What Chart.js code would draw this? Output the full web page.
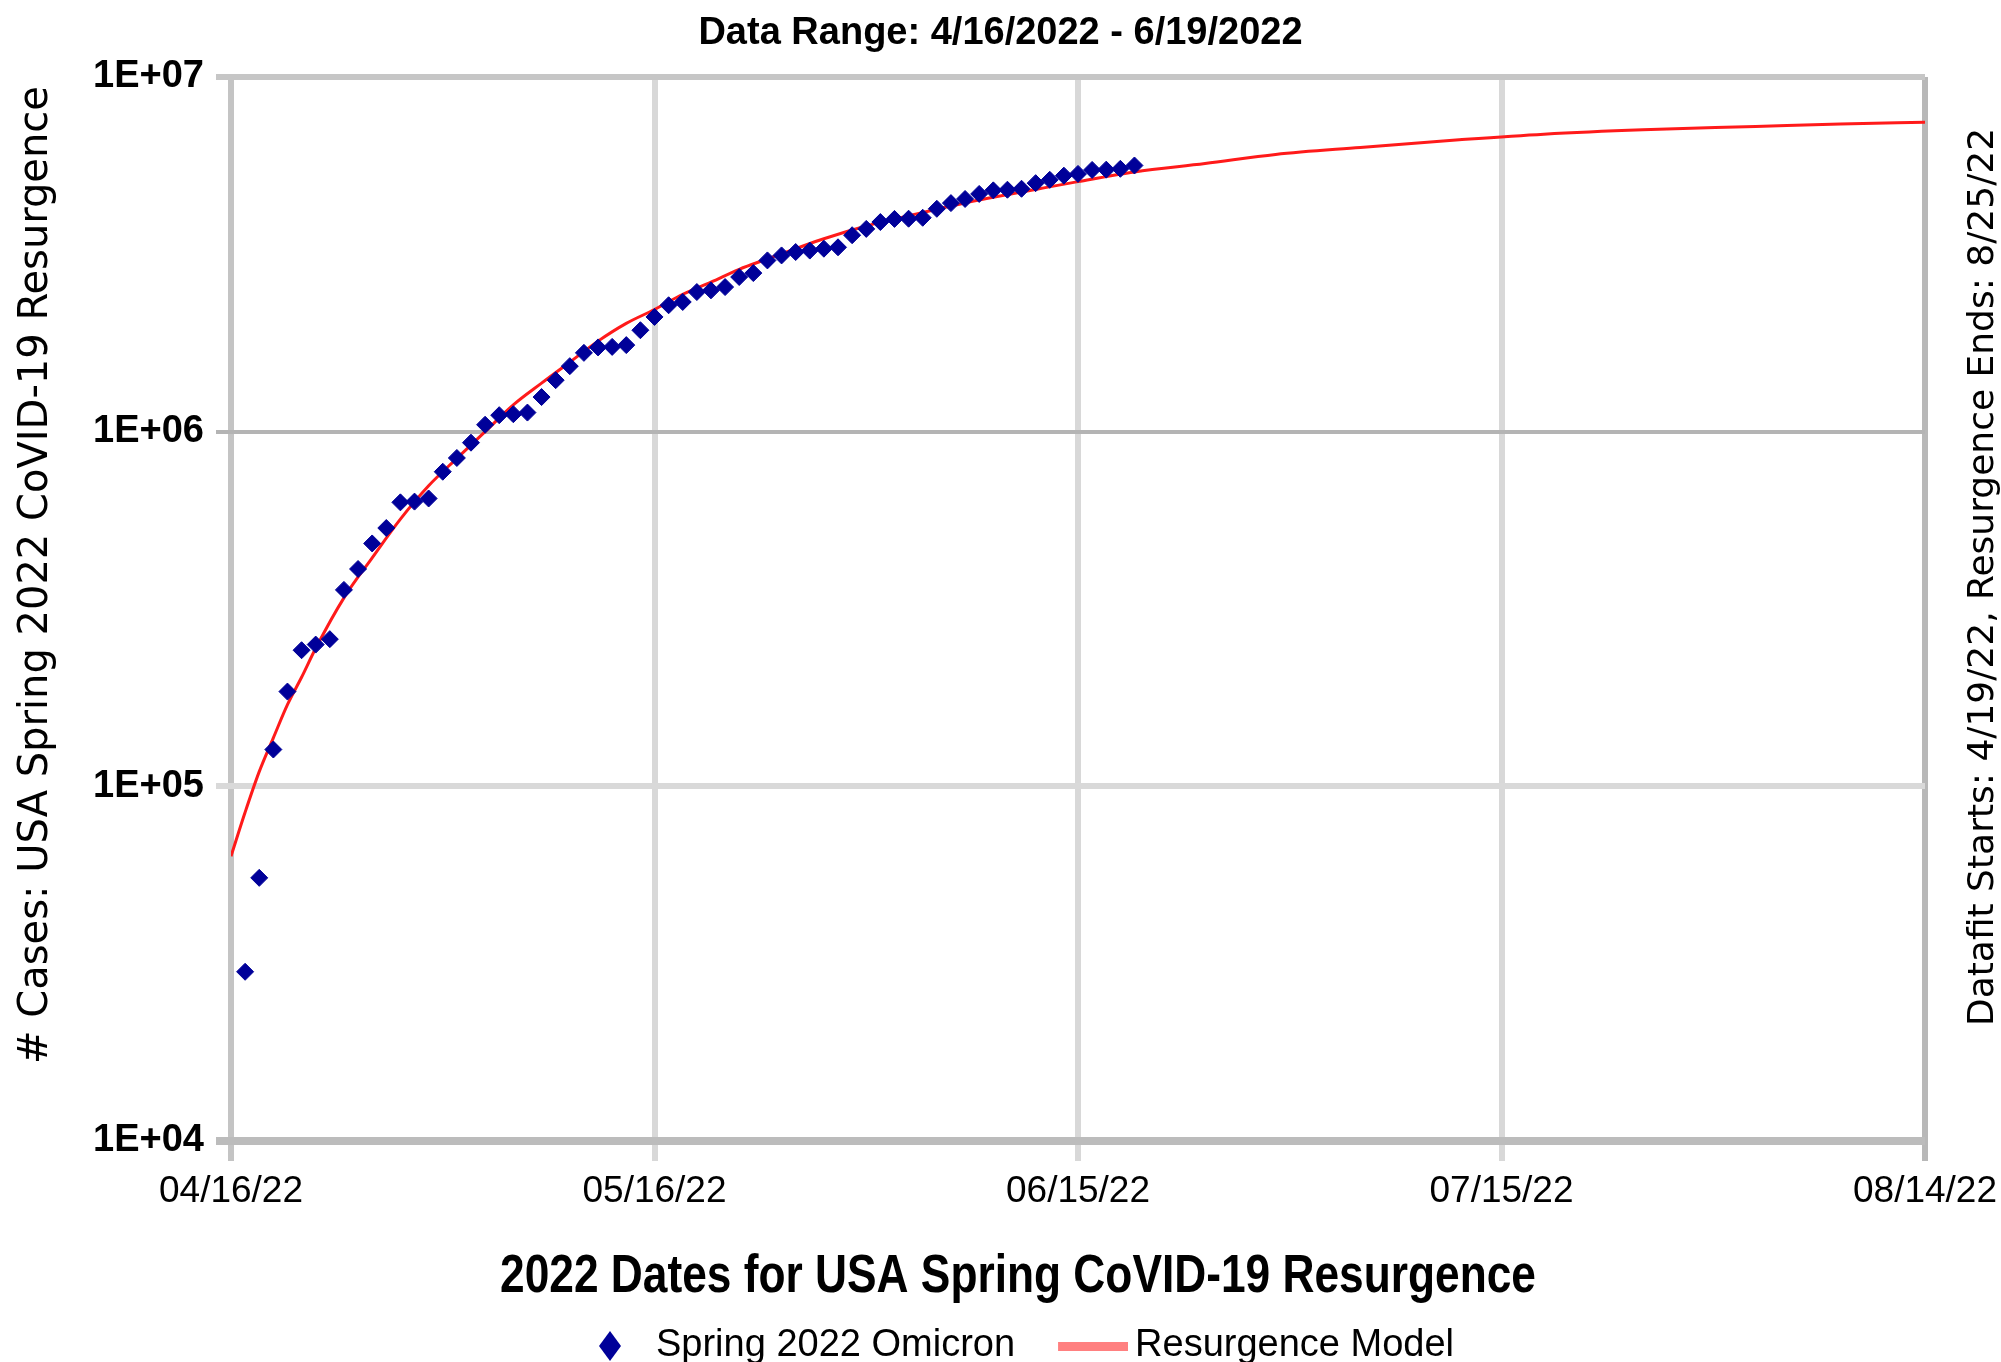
<!DOCTYPE html>
<html>
<head>
<meta charset="utf-8">
<title>USA Spring 2022 CoVID-19 Resurgence</title>
<script src="https://cdn.jsdelivr.net/npm/chart.js@4.4.1/dist/chart.umd.min.js"></script>
<style>
  html, body { margin: 0; padding: 0; background: #fff; }
  #wrap { width: 2001px; height: 1362px; }
</style>
</head>
<body>
<div id="wrap"><canvas id="chart" width="2001" height="1362"></canvas></div>
<script>
// Spring 2022 Omicron cumulative cases, one point a day from 4/17/22 (day 1)
const caseFirstDay = 1;
const caseValues = [
  30000, 55200, 127000, 185000, 242000, 251000, 260000, 358000, 410000, 484000,
  535000, 632000, 635000, 648000, 771000, 843000, 931000, 1046000, 1113000, 1120000,
  1132000, 1252000, 1397000, 1530000, 1668000, 1728000, 1734000, 1754000, 1932000, 2106000,
  2272000, 2321000, 2476000, 2503000, 2557000, 2729000, 2800000, 3040000, 3140000, 3210000,
  3240000, 3280000, 3310000, 3580000, 3730000, 3900000, 3980000, 3985000, 4010000, 4250000,
  4410000, 4530000, 4680000, 4790000, 4810000, 4840000, 5020000, 5130000, 5270000, 5330000,
  5470000, 5480000, 5510000, 5630000
];

// Resurgence model, sampled along the red curve (days after 4/16/22)
const modelDays = [0, 1, 2, 3, 4, 5, 6, 8, 10, 12, 14, 16, 18, 20, 22, 24, 26, 28, 30, 32,
  34, 36, 38, 40, 42, 45, 49, 53, 57, 60, 64, 69, 74, 80, 87, 93, 100, 108, 114, 120];
const modelValues = [63500, 84500, 110000, 137000, 170000, 203000, 245000, 340000, 441000, 567000,
  704000, 841000, 1000000, 1190000, 1370000, 1570000, 1800000, 2020000, 2210000, 2440000,
  2640000, 2870000, 3070000, 3280000, 3500000, 3800000, 4150000, 4500000, 4820000, 5070000,
  5400000, 5700000, 6050000, 6330000, 6650000, 6900000, 7100000, 7250000, 7370000, 7450000];

const xTickDays = [0, 30, 60, 90, 120];
const xTickLabels = ['04/16/22', '05/16/22', '06/15/22', '07/15/22', '08/14/22'];
const yTickValues = [1e4, 1e5, 1e6, 1e7];
const yTickLabels = ['1E+04', '1E+05', '1E+06', '1E+07'];

const titleText = 'Data Range: 4/16/2022 - 6/19/2022';
const xTitle = '2022 Dates for USA Spring CoVID-19 Resurgence';
const yTitle = '# Cases: USA Spring 2022 CoVID-19 Resurgence';
const noteText = 'Datafit Starts: 4/19/22, Resurgence Ends: 8/25/22';

const SANS = "'Liberation Sans', Arial, sans-serif";
const WIDE = "'DejaVu Sans', sans-serif";

// little legend swatches (drawn off-centre so they sit where the original puts them)
function makeMark(w, h, draw) {
  const c = document.createElement('canvas');
  c.width = w;
  c.height = h;
  draw(c.getContext('2d'));
  return c;
}
const legendMarks = [
  makeMark(58, 30, g => {
    g.fillStyle = '#000099';
    g.beginPath();
    g.moveTo(47, 0); g.lineTo(58, 15); g.lineTo(47, 30); g.lineTo(36, 15);
    g.closePath();
    g.fill();
  }),
  makeMark(114, 9, g => {
    g.fillStyle = '#ff8080';
    g.fillRect(44, 0, 70, 9);
  })
];

const yGridColors = ['#bcbcbc', '#d9d9d9', '#b4b4b4', '#c6c6c6'];
const yGridWidths = [8, 6, 4, 6];
const xGridColors = ['#c4c4c4', '#d8d8d8', '#d8d8d8', '#d8d8d8', '#b8b8b8'];

// free text around the plot: x title (squeezed like a narrow face), rotated y title, right-hand note
const sideText = {
  id: 'sideText',
  afterDraw(chart) {
    const ctx = chart.ctx;
    ctx.save();
    ctx.fillStyle = '#000';
    ctx.textAlign = 'center';
    ctx.textBaseline = 'alphabetic';

    ctx.font = 'bold 54px ' + SANS;
    ctx.translate(1018, 1292);
    ctx.scale(0.82, 1);
    ctx.fillText(xTitle, 0, 0);
    ctx.setTransform(1, 0, 0, 1, 0, 0);

    ctx.font = '40px ' + WIDE;
    ctx.translate(47, 575);
    ctx.rotate(-Math.PI / 2);
    ctx.fillText(yTitle, 0, 0);
    ctx.setTransform(1, 0, 0, 1, 0, 0);

    ctx.font = '36px ' + WIDE;
    ctx.translate(1993, 577);
    ctx.rotate(-Math.PI / 2);
    ctx.fillText(noteText, 0, 0);
    ctx.restore();
  }
};

const cases = caseValues.map((v, i) => ({ x: caseFirstDay + i, y: v }));
const model = modelDays.map((d, i) => ({ x: d, y: modelValues[i] }));

new Chart(document.getElementById('chart'), {
  type: 'scatter',
  data: {
    datasets: [
      {
        label: 'Spring 2022 Omicron',
        data: cases,
        pointStyle: 'rectRot',
        pointRadius: 8.5,
        backgroundColor: '#000099',
        borderColor: '#000099',
        borderWidth: 1
      },
      {
        type: 'line',
        label: 'Resurgence Model',
        data: model,
        borderColor: '#ff1a1a',
        borderWidth: 3,
        pointRadius: 0,
        fill: false,
        cubicInterpolationMode: 'monotone'
      }
    ]
  },
  options: {
    responsive: false,
    animation: false,
    layout: { padding: { left: 0, right: 0, top: 0, bottom: -13 } },
    plugins: {
      title: {
        display: true,
        text: titleText,
        color: '#000',
        font: { family: SANS, size: 38, weight: 'bold', lineHeight: 1.2 },
        padding: { top: 11, bottom: 20.4 }
      },
      legend: {
        position: 'bottom',
        labels: {
          color: '#000',
          font: { family: SANS, size: 38 },
          usePointStyle: true,
          pointStyleWidth: 90,
          padding: 11,
          generateLabels: chart => chart.data.datasets.map((ds, i) => ({
            text: ds.label,
            datasetIndex: i,
            hidden: false,
            pointStyle: legendMarks[i],
            fontColor: '#000',
            fillStyle: 'transparent',
            strokeStyle: 'transparent',
            lineWidth: 0
          }))
        }
      },
      tooltip: { enabled: false }
    },
    scales: {
      x: {
        type: 'linear',
        min: 0,
        max: 120,
        afterBuildTicks: s => { s.ticks = xTickDays.map(v => ({ value: v })); },
        afterFit: s => { s.height = 175; },
        grid: {
          color: c => xGridColors[c.index] || '#d8d8d8',
          lineWidth: 6,
          tickLength: 20
        },
        border: { display: false },
        ticks: {
          color: '#000',
          font: { family: SANS, size: 37, lineHeight: 1.55 },
          padding: 2,
          maxRotation: 0,
          callback: (v, i) => xTickLabels[i]
        }
      },
      y: {
        type: 'logarithmic',
        min: 1e4,
        max: 1e7,
        afterBuildTicks: s => { s.ticks = yTickValues.map(v => ({ value: v })); },
        afterFit: s => { s.width = 231; },
        grid: {
          color: c => yGridColors[c.index] || '#d0d0d0',
          lineWidth: c => yGridWidths[c.index] || 5,
          tickLength: 15
        },
        border: { display: false },
        ticks: {
          color: '#000',
          font: { family: SANS, size: 38, weight: 'bold' },
          padding: 12,
          callback: (v, i) => yTickLabels[i]
        }
      },
      spare: {
        type: 'linear',
        position: 'right',
        display: true,
        grid: { display: false },
        border: { display: false },
        ticks: { display: false },
        afterFit: s => { s.width = 76; }
      }
    }
  },
  plugins: [sideText]
});
</script>
</body>
</html>
